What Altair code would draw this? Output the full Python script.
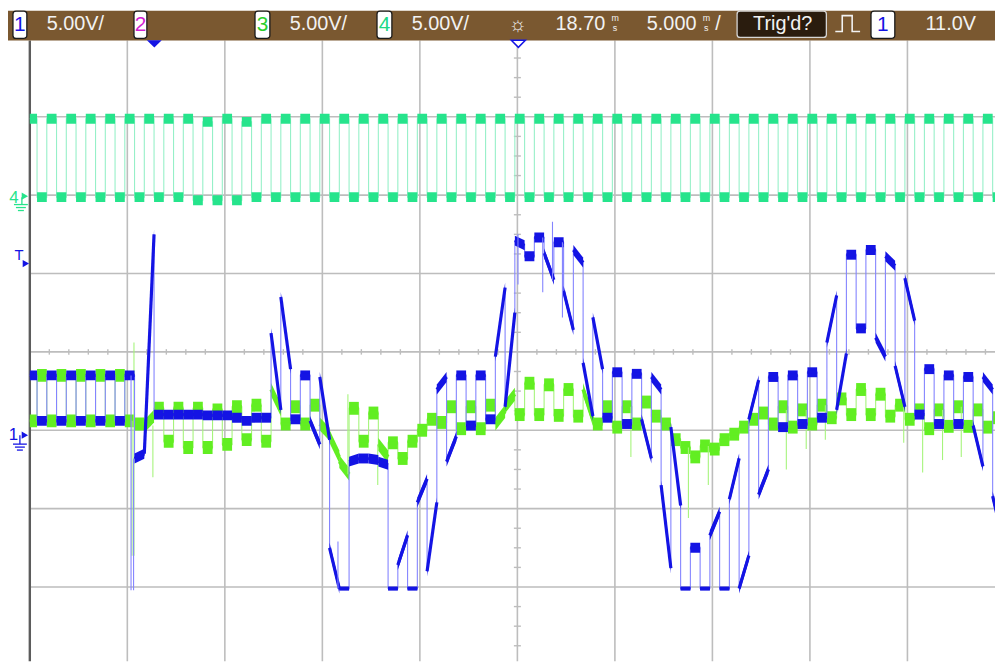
import altair as alt
import pandas as pd

# ---------------- screen geometry (scope units) ----------------
VOLTS_PER_DIV = 5.0
PX_PER_DIV = 79.0
X_MIN_MS, X_MAX_MS = 0.0, 49.49          # visible time span, 5 ms/div
Y_MIN_DIV, Y_MAX_DIV = -3.949, 3.975      # visible vertical span in divisions
SLOT_START_MS = -0.13                     # first half-period slot edge
SLOT_MS = 0.5                             # half period of the 1 kHz switching

CH1_GROUND = -1.0
CH3_GROUND = -1.0
CH4_GROUND = 1.975

# ---------------- traces, volts per half-period slot (start / end) ----------------
ch1_a = [3.5, 0.6, 3.5, 0.6, 3.5, 0.6, 3.5, 0.6, 3.5, 0.6,
         3.5, -1.8, -1.5, 1.0, 1.0, 1.0, 1.0, 1.0, 0.95, 0.95,
         0.95, 0.8, 0.6, 0.8, 0.8, 6.2, 8.5, 0.7, 3.5, 0.6,
         3.4, -7.5, -10.1, -2.0, -1.8, -1.8, -2.0, -10.1, -8.6, -10.1,
         -4.6, -9.0, 2.6, -2.0, 3.5, 0.3, 3.5, 0.7, 4.7, 1.5,
         12.1, 11.1, 12.3, 11.3, 12.0, 8.9, 11.5, 4.3, 7.2, 0.8,
         3.7, 0.4, 3.6, 0.7, 3.4, -3.5, 0.2, -10.1, -7.5, -10.1,
         -6.7, -10.1, -4.4, -10.1, 0.7, -4.1, 3.4, 0.2, 3.5, 0.4,
         3.7, 0.8, 5.6, 1.3, 11.2, 6.5, 11.5, 5.9, 11.1, 4.1,
         9.7, 1.0, 3.9, 0.4, 3.5, 0.4, 3.4, 0.3, 3.4, -4.2]
ch1_b = [3.5, 0.6, 3.5, 0.6, 3.5, 0.6, 3.5, 0.6, 3.5, 0.6,
         3.5, -1.5, 12.5, 1.0, 1.0, 1.0, 1.0, 1.0, 0.95, 0.95,
         0.95, 0.8, 0.6, 0.8, 0.8, 1.3, 3.9, 0.7, 3.5, -0.9,
         -0.6, -10.1, -10.1, -1.8, -1.8, -1.9, -2.2, -10.1, -6.7, -10.1,
         -3.1, -4.6, 3.4, -0.4, 3.5, 0.3, 3.5, 0.7, 9.1, 7.5,
         11.8, 11.1, 12.3, 9.6, 12.0, 6.4, 10.7, 0.9, 3.9, 0.8,
         3.7, 0.4, 3.6, -1.8, 2.6, -8.8, -4.8, -10.1, -7.5, -10.1,
         -5.2, -10.1, -1.8, -8.0, 3.2, -2.5, 3.4, 0.2, 3.5, 0.4,
         3.7, 0.8, 8.6, 4.9, 11.2, 6.5, 11.5, 4.7, 10.5, 1.5,
         7.0, 1.0, 3.9, 0.4, 3.5, 0.4, 3.4, -2.3, 2.6, -6.9]

ch3_a = [0.6, 3.5, 0.6, 3.5, 0.6, 3.5, 0.6, 3.5, 0.6, 3.5,
         0.6, 0.4, 0.25, 1.4, -0.7, 1.4, -1.1, 1.4, -1.1, 1.3,
         -0.9, 1.5, -0.6, 1.6, -0.7, 2.6, 0.4, 1.5, 0.4, 1.6,
         0.4, -0.4, -2.0, 1.4, -0.7, 1.1, -0.9, -0.8, -1.8, -0.7,
         0.0, 0.7, 0.5, 1.5, 0.1, 1.5, 0.1, 1.6, 0.4, 1.5,
         1.0, 3.0, 1.0, 2.9, 0.95, 2.6, 0.9, 2.6, 0.4, 1.5,
         0.2, 1.5, 0.4, 1.8, 0.9, 0.4, -0.6, -1.1, -1.7, -1.0,
         -1.2, -0.6, -0.25, 0.2, 0.7, 1.1, 0.4, 1.5, 0.2, 1.3,
         0.4, 1.6, 0.8, 2.0, 1.0, 2.6, 1.0, 2.3, 0.9, 1.6,
         0.7, 1.3, 0.1, 1.3, 0.25, 1.5, 0.25, 1.3, 0.2, 0.8]
ch3_b = [0.6, 3.5, 0.6, 3.5, 0.6, 3.5, 0.6, 3.5, 0.6, 3.5,
         0.6, 0.4, 0.9, 1.4, -0.7, 1.4, -1.1, 1.4, -1.1, 1.3,
         -0.9, 1.5, -0.6, 1.6, -0.7, 1.3, 0.4, 1.5, 0.4, 1.6,
         -0.25, -1.7, -2.8, 1.4, -0.7, 1.1, -1.7, -0.8, -1.8, -0.7,
         0.0, 0.7, 0.5, 1.5, 0.1, 1.5, 0.1, 1.6, 1.2, 2.3,
         1.0, 3.0, 1.0, 2.9, 0.95, 2.6, 0.9, 0.7, 0.4, 1.5,
         0.2, 1.5, 0.4, 1.8, 0.9, 0.4, -0.6, -1.1, -1.7, -1.0,
         -1.2, -0.6, -0.25, 0.2, 0.7, 1.1, 0.4, 1.5, 0.2, 1.3,
         0.4, 1.6, 0.8, 2.0, 1.0, 2.6, 1.0, 2.3, 0.9, 1.6,
         0.7, 1.3, 0.1, 1.3, 0.25, 1.5, 0.25, 1.3, 0.2, 0.8]

ch4_level = [5.0, 0.0, 5.0, 0.0, 5.0, 0.0, 5.0, 0.0, 5.0, 0.0,
             5.0, 0.0, 5.0, 0.0, 5.0, 0.0, 5.0, -0.2, 4.8, -0.2,
             5.0, -0.2, 4.8, 0.0, 5.0, 0.0, 5.0, 0.0, 5.0, 0.0,
             5.0, 0.0, 5.0, 0.0, 5.0, 0.0, 5.0, 0.0, 5.0, 0.0,
             5.0, 0.0, 5.0, 0.0, 5.0, 0.0, 5.0, 0.0, 5.0, 0.0,
             5.0, 0.0, 5.0, 0.0, 5.0, 0.0, 5.0, 0.0, 5.0, 0.0,
             5.0, 0.0, 5.0, 0.0, 5.0, 0.0, 5.0, 0.0, 5.0, 0.0,
             5.0, 0.0, 5.0, 0.0, 5.0, 0.0, 5.0, 0.0, 5.0, 0.0,
             5.0, 0.0, 5.0, 0.0, 5.0, 0.0, 5.0, 0.0, 5.0, 0.0,
             5.0, 0.0, 5.0, 0.0, 5.0, 0.0, 5.0, 0.0, 5.0, 0.0]

# short transients (time ms, from V, to V)
ch1_glitch_t = [5.19, 5.32, 15.80, 25.03, 26.30, 26.80, 27.31]
ch1_glitch_from = [3.5, -10.2, -10.1, 12.5, 12.3, 9.6, 12.0]
ch1_glitch_to = [-10.2, -1.8, -7.1, 9.3, 8.8, 13.3, 7.2]

ch3_glitch_t = [5.24, 5.34, 6.31, 16.31, 17.84, 30.82, 33.77, 34.79,
                38.79, 39.81, 40.79, 44.81, 45.78, 46.80, 47.76]
ch3_glitch_from = [0.6, -8.0, 0.3, -2.8, -0.9, 1.5, -1.1, -1.0,
                   1.3, 1.3, 1.6, 1.6, 1.3, 1.3, 1.5]
ch3_glitch_to = [-8.0, 5.6, -3.0, 2.3, -3.5, -1.7, -5.6, -3.5,
                 -2.5, -1.2, -0.6, -0.8, -2.7, -1.9, -1.7]

grid_ms = [5, 10, 15, 20, 25, 30, 35, 40, 45]
grid_div = [-3, -2, -1, 0, 1, 2, 3]
tick_ms = [t for t in range(1, 50) if t % 5]
tick_div = [k * 0.25 for k in range(-15, 16) if k % 4]

# ---------------- colours ----------------
BLUE, BLUE_THIN = "#1414e4", "#8484ff"
LIME, LIME_THIN = "#62ee22", "#a6f47c"
SPRING, SPRING_THIN = "#26e48c", "#96f0c8"
GRID = "#bdbdbd"
HEADER = "#7a5830"
TXT = "#f2f2f2"
FONT = "Liberation Sans"

XS = alt.Scale(domain=[X_MIN_MS, X_MAX_MS], nice=False, zero=False)
YS = alt.Scale(domain=[Y_MIN_DIV, Y_MAX_DIV], nice=False, zero=False)


def ex(f):
    return alt.X(f, type="quantitative", scale=XS, axis=None)


def ey(f):
    return alt.Y(f, type="quantitative", scale=YS, axis=None)


def px(f):
    return alt.X(f, type="quantitative", scale=None, axis=None)


def py(f):
    return alt.Y(f, type="quantitative", scale=None, axis=None)


def frames(a, b, ground, band_px, rail_v=None, rail_px=4):
    """Slot segments as noisy bands (fixed vertical height), the segments themselves, and the thin path."""
    rows_t, rows_lo, rows_hi, rows_i = [], [], [], []
    seg_t, seg_t2, seg_d, seg_d2 = [], [], [], []
    pt, pdv = [], []
    for i, (va, vb) in enumerate(zip(a, b)):
        t0 = SLOT_START_MS + SLOT_MS * i
        t1 = t0 + SLOT_MS
        d0 = ground + va / VOLTS_PER_DIV
        d1 = ground + vb / VOLTS_PER_DIV
        on_rail = rail_v is not None and va <= rail_v and vb <= rail_v
        half = (rail_px if on_rail else band_px) / PX_PER_DIV / 2.0
        rows_t += [t0, t1]
        rows_lo += [d0 - half, d1 - half]
        rows_hi += [d0 + half, d1 + half]
        rows_i += [i, i]
        seg_t.append(t0)
        seg_t2.append(t1)
        seg_d.append(d0)
        seg_d2.append(d1)
        pt += [t0, t1]
        pdv += [d0, d1]
    band = pd.DataFrame({"t": rows_t, "lo": rows_lo, "hi": rows_hi, "i": rows_i})
    seg = pd.DataFrame({"t": seg_t, "t2": seg_t2, "d": seg_d, "d2": seg_d2})
    path = pd.DataFrame({"t": pt, "d": pdv, "o": list(range(len(pt)))})
    return band, seg, path


def glitches(ts, v0, v1, ground):
    return pd.DataFrame({"t": ts,
                         "d": [ground + v / VOLTS_PER_DIV for v in v0],
                         "d2": [ground + v / VOLTS_PER_DIV for v in v1]})


def thin(df, color, w=1.1):
    return alt.Chart(df).mark_line(color=color, strokeWidth=w, clip=True).encode(
        x=ex("t"), y=ey("d"), order=alt.Order("o:Q"))


def band(df, color):
    return alt.Chart(df).mark_area(color=color, opacity=1, clip=True).encode(
        x=ex("t"), y=ey("lo"), y2=alt.Y2("hi"), detail="i:N")


def core(df, color, w):
    return alt.Chart(df).mark_rule(color=color, strokeWidth=w, strokeCap="butt", clip=True).encode(
        x=ex("t"), x2=alt.X2("t2"), y=ey("d"), y2=alt.Y2("d2"))


def spikes(df, color):
    return alt.Chart(df).mark_rule(color=color, strokeWidth=1.1, clip=True).encode(
        x=ex("t"), y=ey("d"), y2=alt.Y2("d2"))


ch1_band, ch1_seg, ch1_path = frames(ch1_a, ch1_b, CH1_GROUND, 10, rail_v=-10.0)
ch3_band, ch3_seg, ch3_path = frames(ch3_a, ch3_b, CH3_GROUND, 13)
ch4_band, ch4_seg, ch4_path = frames(ch4_level, ch4_level, CH4_GROUND, 10)
ch1_gl = glitches(ch1_glitch_t, ch1_glitch_from, ch1_glitch_to, CH1_GROUND)
ch3_gl = glitches(ch3_glitch_t, ch3_glitch_from, ch3_glitch_to, CH3_GROUND)

# ---------------- graticule ----------------
vgrid = alt.Chart(pd.DataFrame({"t": grid_ms})).mark_rule(color=GRID, strokeWidth=1.6).encode(x=ex("t"))
hgrid = alt.Chart(pd.DataFrame({"d": grid_div})).mark_rule(color=GRID, strokeWidth=1.6).encode(y=ey("d"))
hticks = alt.Chart(pd.DataFrame({"t": tick_ms, "d": [-0.035] * len(tick_ms), "d2": [0.035] * len(tick_ms)})).mark_rule(
    color=GRID, strokeWidth=1.4).encode(x=ex("t"), y=ey("d"), y2=alt.Y2("d2"))
vticks = alt.Chart(pd.DataFrame({"d": tick_div, "t": [24.82] * len(tick_div), "t2": [25.18] * len(tick_div)})).mark_rule(
    color=GRID, strokeWidth=1.4).encode(y=ey("d"), x=ex("t"), x2=alt.X2("t2"))
border = alt.Chart(pd.DataFrame({"t": [X_MIN_MS]})).mark_rule(color="#5c5c5c", strokeWidth=2.4).encode(x=ex("t"))

# ---------------- screen furniture (pixel positions) ----------------
hdr = alt.Chart(pd.DataFrame({"x": [-22], "x2": [973], "y": [-30], "y2": [0]})).mark_rect(color=HEADER).encode(
    x=px("x"), x2="x2", y=py("y"), y2="y2")

boxes = pd.DataFrame({
    "x": [-17, 105, 227, 350, 713, 848],
    "x2": [-3, 118, 242, 365, 803, 872],
    "y": [-29.5, -29.5, -29.5, -29.5, -29.5, -29.5],
    "y2": [-2, -2, -2, -2, -3, -2],
    "fill": ["#ffffff", "#ffffff", "#ffffff", "#ffffff", "#2a1c0e", "#ffffff"],
    "stroke": ["#1a1a1a", "#1a1a1a", "#1a1a1a", "#1a1a1a", "#d6d6d6", "#1a1a1a"],
})
box_layer = alt.Chart(boxes).mark_rect(cornerRadius=3, strokeWidth=1.3).encode(
    x=px("x"), x2="x2", y=py("y"), y2="y2",
    fill=alt.Fill("fill:N", scale=None), stroke=alt.Stroke("stroke:N", scale=None))

left_txt = pd.DataFrame({
    "label": ["5.00V/", "5.00V/", "5.00V/", "18.70", "5.000", "/", "11.0V"],
    "x": [17, 262, 385, 530, 622, 691, 903],
    "y": [-10, -10, -10, -10, -10, -10, -10],
})
left_layer = alt.Chart(left_txt).mark_text(font=FONT, fontSize=20, align="left", baseline="alphabetic",
                                           color=TXT).encode(x=px("x"), y=py("y"), text="label:N")

ctr_txt = pd.DataFrame({
    "label": ["1", "2", "3", "4", "1", "Trig'd?", "m", "s", "m", "s", "\u263c", "4", "T", "1"],
    "x": [-10, 111.5, 234.5, 357.5, 860, 759, 590, 590, 682, 682, 492, -16, -11, -16.5],
    "y": [-9.5, -9.5, -9.5, -9.5, -9.5, -10, -20, -9, -20, -9, -9, 164, 221, 403],
    "c": [BLUE, "#d21ed2", "#2ccf2c", "#20d884", BLUE, TXT, TXT, TXT, TXT, TXT, TXT, SPRING, BLUE, BLUE],
    "fs": [21, 21, 21, 21, 21, 20, 9, 9, 9, 9, 20, 17, 15, 17],
})
ctr_layer = alt.Chart(ctr_txt).mark_text(font=FONT, align="center", baseline="alphabetic").encode(
    x=px("x"), y=py("y"), text="label:N",
    color=alt.Color("c:N", scale=None), size=alt.Size("fs:Q", scale=None))

pulse = pd.DataFrame({"x": [812, 819, 819, 829, 829, 837], "y": [-9, -9, -25, -25, -9, -9], "o": range(6)})
pulse_layer = alt.Chart(pulse).mark_line(color=TXT, strokeWidth=1.6).encode(
    x=px("x"), y=py("y"), order=alt.Order("o:Q"))

arrows = pd.DataFrame({"x": [-5, -4, -5], "y": [157, 225, 398], "c": [SPRING, BLUE, BLUE]})
arrow_layer = alt.Chart(arrows).mark_point(shape="triangle-right", filled=True, size=55, opacity=1).encode(
    x=px("x"), y=py("y"), color=alt.Color("c:N", scale=None))

gnd = pd.DataFrame({
    "x": [-8, -16, -14, -12, -10, -17, -15, -13],
    "x2": [-8, -2, -4, -6, -10, -3, -5, -7],
    "y": [158, 165.5, 168.5, 171.5, 398, 407, 410, 413],
    "y2": [165.5, 165.5, 168.5, 171.5, 407, 407, 410, 413],
    "c": [SPRING] * 4 + [BLUE] * 4,
})
gnd_layer = alt.Chart(gnd).mark_rule(strokeWidth=1.3).encode(
    x=px("x"), x2="x2", y=py("y"), y2="y2", color=alt.Color("c:N", scale=None))

TRI = "M-1,-0.5L1,-0.5L0,0.5Z"
trig_mark = alt.Chart(pd.DataFrame({"x": [125.5], "y": [3.5]})).mark_point(
    shape=TRI, filled=True, color=BLUE, size=225, opacity=1).encode(x=px("x"), y=py("y"))
ref_mark = alt.Chart(pd.DataFrame({"x": [492.5], "y": [3.5]})).mark_point(
    shape=TRI, filled=True, fill="white", stroke=BLUE, strokeWidth=1.5, size=200, opacity=1).encode(
    x=px("x"), y=py("y"))

layers = [
    vgrid, hgrid, hticks, vticks, border,
    thin(ch4_path, SPRING_THIN), band(ch4_band, SPRING),
    thin(ch3_path, LIME_THIN), band(ch3_band, LIME), core(ch3_seg, LIME, 3.5), spikes(ch3_gl, LIME_THIN),
    thin(ch1_path, BLUE_THIN), band(ch1_band, BLUE), core(ch1_seg, BLUE, 3.2), spikes(ch1_gl, BLUE_THIN),
    hdr, box_layer, left_layer, ctr_layer, pulse_layer,
    arrow_layer, gnd_layer, trig_mark, ref_mark,
]

chart = alt.layer(*layers).resolve_scale(x="independent", y="independent").properties(
    width=973, height=626,
    autosize=alt.AutoSizeParams(type="none"),
    padding={"left": 22, "top": 30, "right": 0, "bottom": 0},
    background="white",
).configure_view(strokeWidth=0)

chart.save("out.html", embed_options={"renderer": "svg", "actions": False})
